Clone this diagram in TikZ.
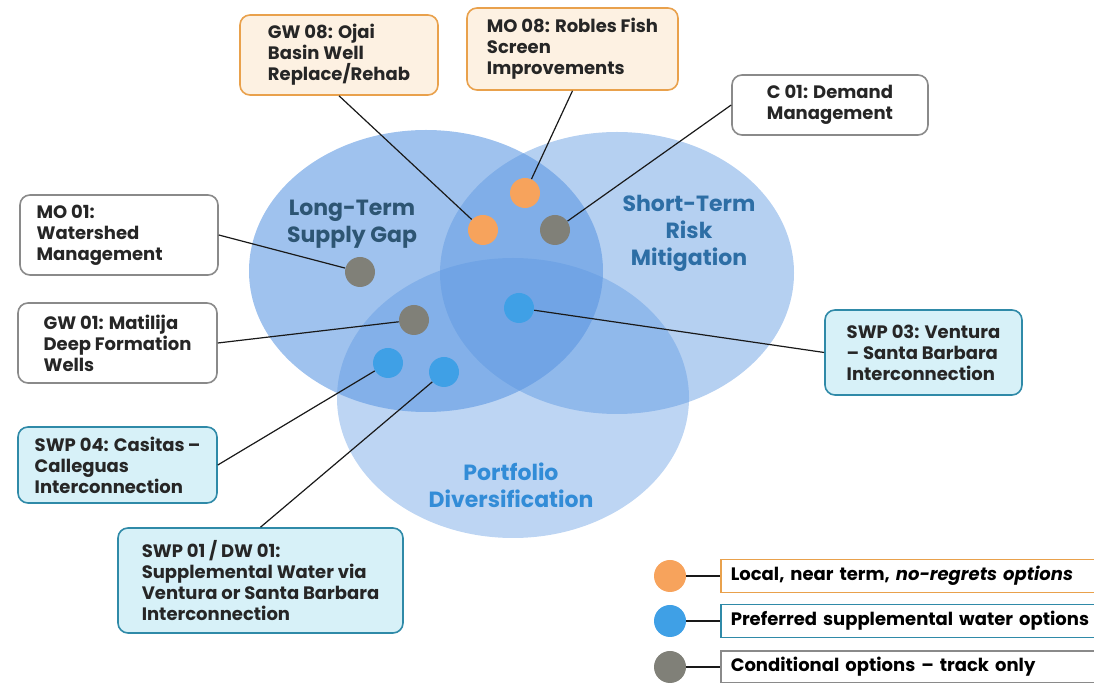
\documentclass[tikz,border=0pt]{standalone}
\usepackage{fontspec}
\setmainfont{Poppins}
\usetikzlibrary{shapes.geometric}

\definecolor{vennblue}{RGB}{90,150,225}
\definecolor{ltcol}{RGB}{45,85,115}
\definecolor{stcol}{RGB}{45,110,165}
\definecolor{pdcol}{RGB}{50,140,215}
\definecolor{dotorange}{RGB}{247,163,92}
\definecolor{dotblue}{RGB}{63,160,230}
\definecolor{dotgray}{RGB}{128,128,120}
\definecolor{edgeorange}{RGB}{233,161,76}
\definecolor{edgeteal}{RGB}{47,138,168}
\definecolor{edgegray}{RGB}{138,138,138}
\definecolor{fillpeach}{RGB}{253,241,226}
\definecolor{fillcyan}{RGB}{215,241,248}

\begin{document}
\begin{tikzpicture}[
    x=0.5pt, y=-0.5pt,
    venn/.style = {ellipse, fill=vennblue, inner sep=0pt,
minimum width=177pt, minimum height=141pt},
    vennlabel/.style = {align=center, font=\fontsize{11}{13.5}\selectfont\bfseries},
    base/.style = {rectangle, rounded corners=5pt, line width=0.8pt,
align=left, inner xsep=5pt, text=black!85,
font=\fontsize{9}{10.5}\selectfont\bfseries},
    local/.style = {base, draw=edgeorange, fill=fillpeach},
    preferred/.style = {base, draw=edgeteal, fill=fillcyan},
    conditional/.style = {base, draw=edgegray, fill=white},
    dot/.style = {circle, minimum size=15pt, inner sep=0pt},
    legdot/.style = {dot, minimum size=16pt},
    legbox/.style = {rectangle, line width=0.8pt, fill=white, anchor=west,
text width=250pt, align=left, inner xsep=5pt,
font=\fontsize{9}{11}\selectfont\bfseries},
    link/.style = {line width=0.6pt, black!90}
]
  \useasboundingbox (0,0) rectangle (1094,683);
  \clip (0,0) rectangle (1094,683);

  % the three goals
  \node (ltsg) [venn, fill opacity=0.58] at (426,271) {};
  \node (strm) [venn, fill opacity=0.45] at (617,273) {};
  \node (pdiv) [venn, fill opacity=0.40, minimum width=176pt, minimum height=140pt] at (513,398) {};

  \node (ltsglabel) [vennlabel, text=ltcol] at (352,224) {Long-Term\\Supply Gap};
  \node (strmlabel) [vennlabel, text=stcol] at (689,233) {Short-Term\\Risk\\Mitigation};
  \node (pdivlabel) [vennlabel, text=pdcol] at (511,485) {Portfolio\\Diversification};

  % options
  \node (gw08) [local, minimum width=99pt, minimum height=40pt] at (339,55)
    {GW 08: Ojai\\Basin Well\\Replace/Rehab};
  \node (mo08) [local, minimum width=105.5pt, minimum height=41pt] at (572.5,49)
    {MO 08: Robles Fish\\Screen\\Improvements};
  \node (c01) [conditional, minimum width=98pt, minimum height=30pt] at (830,105)
    {C 01: Demand\\Management};
  \node (mo01) [conditional, minimum width=99pt, minimum height=40pt] at (119,235)
    {MO 01:\hphantom{Manageme}\\Watershed\\Management};
  \node (gw01) [conditional, minimum width=99.5pt, minimum height=40pt] at (117.5,343)
    {GW 01: Matilija\\Deep Formation\\Wells};
  \node (swp04) [preferred, minimum width=99.5pt, minimum height=38pt] at (117.5,465)
    {SWP 04: Casitas\,--\\Calleguas\\Interconnection};
  \node (swp01) [preferred, minimum width=142.5pt, minimum height=52.5pt] at (260.5,580.5)
    {SWP 01 / DW 01:\\Supplemental Water via\\Ventura or Santa Barbara\\Interconnection};
  \node (swp03) [preferred, minimum width=98.5pt, minimum height=42.5pt] at (923.5,352.5)
    {SWP 03: Ventura\\-- Santa Barbara\\Interconnection};

  \node (gw08dot)  [dot, fill=dotorange] at (483,230) {};
  \node (mo08dot)  [dot, fill=dotorange] at (525,193) {};
  \node (c01dot)   [dot, fill=dotgray]   at (555,230) {};
  \node (mo01dot)  [dot, fill=dotgray]   at (360,272) {};
  \node (gw01dot)  [dot, fill=dotgray]   at (414,320) {};
  \node (swp03dot) [dot, fill=dotblue]   at (519,308) {};
  \node (swp04dot) [dot, fill=dotblue]   at (388,363) {};
  \node (swp01dot) [dot, fill=dotblue]   at (444,372) {};

  \draw[link] (gw08.south) -- (gw08dot);
  \draw[link] (mo08.south) -- (mo08dot);
  \draw[link] (c01.west) -- (c01dot);
  \draw[link] (mo01.east) -- (mo01dot);
  \draw[link] (gw01.east) -- (gw01dot);
  \draw[link] (swp04.east) -- (swp04dot);
  \draw[link] (swp01.north) -- (swp01dot);
  \draw[link] (swp03.west) -- (swp03dot);

  % legend
  \node (localdot) [legdot, fill=dotorange] at (670,576) {};
  \node (prefdot)  [legdot, fill=dotblue]   at (670,621) {};
  \node (conddot)  [legdot, fill=dotgray]   at (670,667) {};

  \node (leglocal) [legbox, draw=edgeorange, minimum height=16.5pt] at (720,576)
    {Local, near term, \textit{no-regrets options}};
  \node (legpref)  [legbox, draw=edgeteal, minimum height=16.5pt] at (720,621)
    {Preferred supplemental water options};
  \node (legcond)  [legbox, draw=edgegray, minimum height=15pt] at (720,667)
    {Conditional options -- track only};

  \draw[link] (localdot) -- (leglocal);
  \draw[link] (prefdot) -- (legpref);
  \draw[link] (conddot) -- (legcond);

\end{tikzpicture}
\end{document}
